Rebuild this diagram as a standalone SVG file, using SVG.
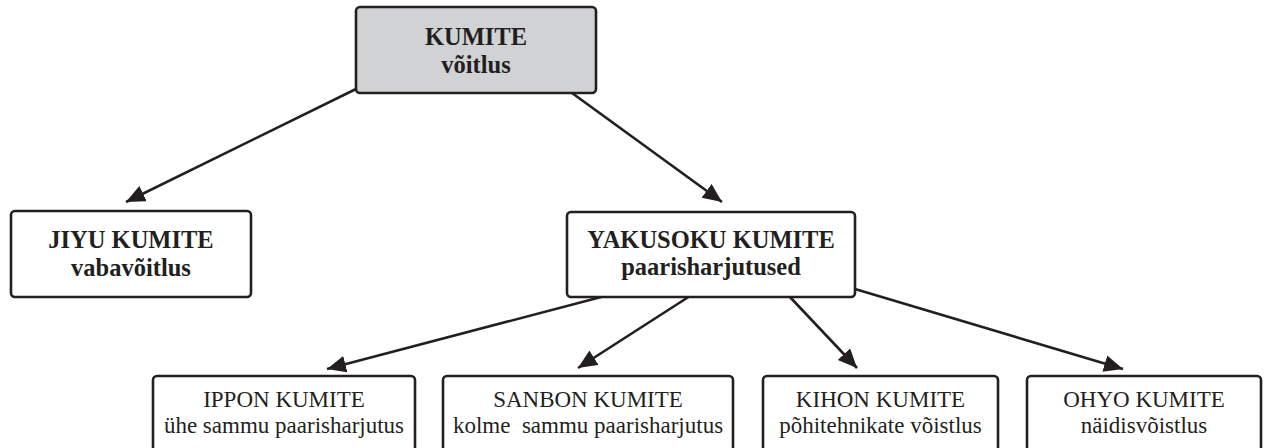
<svg xmlns="http://www.w3.org/2000/svg" width="1265" height="448" viewBox="0 0 1265 448">
  <defs>
    <marker id="arr" markerUnits="userSpaceOnUse" markerWidth="20" markerHeight="18" refX="19" refY="8.5" orient="auto">
      <path d="M0,0 L19,8.5 L0,17 z" fill="#231f20"/>
    </marker>
    <style>
      .box { fill: #ffffff; stroke: #231f20; stroke-width: 2.6; }
      .root { fill: #d1d2d4; }
      .b { font-family: "Liberation Serif", "DejaVu Serif", serif; font-weight: bold; font-size: 24.5px; fill: #231f20; text-anchor: middle; }
      .r { font-family: "Liberation Serif", "DejaVu Serif", serif; font-size: 23px; fill: #231f20; text-anchor: middle; white-space: pre; }
      .edge { stroke: #231f20; stroke-width: 2.6; fill: none; marker-end: url(#arr); }
    </style>
  </defs>
  <rect width="1265" height="448" fill="#ffffff"/>

  <g id="connectors">
    <line class="edge" x1="356" y1="89" x2="126" y2="202"/>
    <line class="edge" x1="572" y1="93" x2="722" y2="202"/>
    <line class="edge" x1="605" y1="296" x2="327" y2="369"/>
    <line class="edge" x1="690" y1="296" x2="578" y2="368"/>
    <line class="edge" x1="789" y1="296" x2="857" y2="368"/>
    <line class="edge" x1="855" y1="289" x2="1123" y2="369"/>
  </g>

  <g id="kumite">
    <rect class="box root" x="356" y="7" width="240" height="86" rx="4"/>
    <text class="b" x="476" y="45">KUMITE</text>
    <text class="b" x="476" y="73">võitlus</text>
  </g>

  <g id="jiyu">
    <rect class="box" x="11" y="211" width="240" height="86" rx="4"/>
    <text class="b" x="131" y="248">JIYU KUMITE</text>
    <text class="b" x="131" y="276">vabavõitlus</text>
  </g>

  <g id="yakusoku">
    <rect class="box" x="567" y="212" width="288" height="85" rx="4"/>
    <text class="b" x="711" y="248">YAKUSOKU KUMITE</text>
    <text class="b" x="711" y="275">paarisharjutused</text>
  </g>

  <g id="ippon">
    <rect class="box" x="153" y="376" width="262" height="90" rx="4"/>
    <text class="r" x="284" y="407">IPPON KUMITE</text>
    <text class="r" x="284" y="433">ühe sammu paarisharjutus</text>
  </g>

  <g id="sanbon">
    <rect class="box" x="443" y="376" width="290" height="90" rx="4"/>
    <text class="r" x="588" y="407">SANBON KUMITE</text>
    <text class="r" x="588" y="433">kolme  sammu paarisharjutus</text>
  </g>

  <g id="kihon">
    <rect class="box" x="763" y="376" width="235" height="90" rx="4"/>
    <text class="r" x="880.5" y="407">KIHON KUMITE</text>
    <text class="r" x="880.5" y="433">põhitehnikate võistlus</text>
  </g>

  <g id="ohyo">
    <rect class="box" x="1027" y="376" width="234" height="90" rx="4"/>
    <text class="r" x="1144" y="407">OHYO KUMITE</text>
    <text class="r" x="1144" y="433">näidisvõistlus</text>
  </g>
</svg>
